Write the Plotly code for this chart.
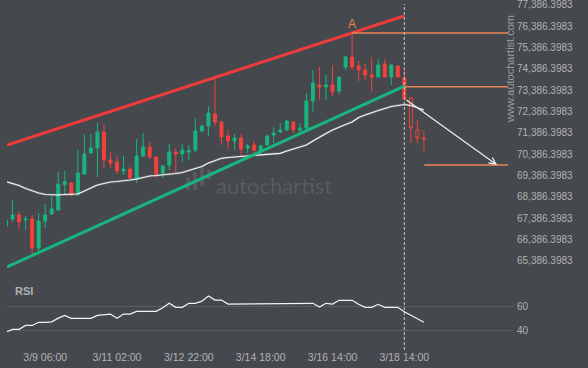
import plotly.graph_objects as go

# ---------------- data ----------------
tick_idx = [6, 17, 28, 39, 50, 61]
tick_labels = ["3/9 06:00", "3/11 02:00", "3/12 22:00", "3/14 18:00", "3/16 14:00", "3/18 14:00"]
price_ticks = [65386.3983 + 1000 * n for n in range(13)]
rsi_ticks = [40, 60]

opens = [67013, 67341, 67529, 67294, 67341, 65982, 67248, 67576, 67763, 68949,
         69029, 68513, 69451, 70435, 70669, 71419, 70107, 70013, 69591, 69685,
         69216, 70294, 70716, 70248, 69498, 69873, 70482, 70388, 70482, 70576,
         71466, 71701, 72263, 71888, 71232, 70998, 71138, 70669, 70810, 70529,
         70810, 71279, 71419, 71513, 71888, 71513, 71607, 72873, 73623, 73529,
         73623, 73341, 74466, 74935, 74513, 74326, 74091, 73998, 74607, 73998,
         74513, 73951]
highs = [67341, 68232, 67669, 67482, 67529, 67623, 68044, 68419, 69544, 69591,
         69076, 70576, 71326, 71326, 71841, 71794, 70482, 70294, 70294, 69779,
         71091, 71373, 70951, 70294, 69873, 70857, 70669, 70857, 70810, 72076,
         71748, 72638, 73904, 71935, 71513, 71326, 71326, 70857, 70998, 70810,
         71279, 71654, 71841, 71982, 71935, 71841, 73248, 74326, 74466, 74091,
         74560, 73998, 74982, 76060, 74748, 74607, 74935, 74841, 74841, 74607,
         74560, 74373]
lows = [66966, 67201, 66873, 66826, 65701, 65841, 66919, 67529, 67763, 68466,
        68419, 68419, 69427, 70435, 69310, 69732, 69732, 69451, 69404, 69216,
        69029, 70248, 70154, 69263, 69263, 69638, 69451, 70013, 70107, 70482,
        71419, 71232, 71701, 70810, 70623, 70576, 70294, 70435, 70388, 70388,
        70763, 70904, 71373, 71466, 71373, 71419, 71513, 72357, 72919, 72919,
        73107, 73201, 74326, 74326, 73810, 73857, 73294, 73998, 73951, 73623,
        73951, 72966]
closes = [67294, 67529, 67201, 67341, 65982, 67248, 67529, 67810, 68982, 69090,
          68466, 69498, 70388, 70669, 71419, 70107, 69966, 69591, 69685, 69263,
          70294, 70716, 70248, 69451, 69826, 70482, 70388, 70576, 70552, 71466,
          71701, 72310, 71888, 71185, 70998, 71138, 70623, 70763, 70576, 70763,
          71232, 71373, 71513, 71935, 71513, 71607, 72873, 73716, 73529, 73623,
          73294, 73998, 74935, 74466, 74326, 74091, 73998, 74560, 73998, 74560,
          73998, 72966]

fut_open = [73013, 71513, 71138]
fut_high = [73060, 71982, 71513]
fut_low = [70904, 70904, 70529]
fut_close = [71607, 71138, 71091]

ma = [69090, 69005, 68912, 68771, 68654, 68560, 68490, 68466, 68466, 68490,
      68490, 68513, 68654, 68794, 68935, 69005, 69076, 69099, 69123, 69169,
      69216, 69287, 69357, 69380, 69404, 69451, 69474, 69521, 69615, 69732,
      69802, 69966, 70084, 70187, 70224, 70248, 70271, 70294, 70318, 70341,
      70365, 70388, 70421, 70529, 70623, 70693, 70810, 70998, 71185, 71349,
      71513, 71654, 71771, 71888, 72099, 72216, 72334, 72427, 72521, 72615,
      72662, 72709, 72662, 72568, 72451]

rsi = [38.6, 40.8, 40.8, 44.0, 44.0, 46.6, 46.6, 47.0, 50.0, 52.3,
       49.9, 49.9, 49.9, 49.9, 52.3, 53.0, 53.4, 49.9, 53.4, 53.4,
       55.6, 55.6, 55.6, 55.6, 58.5, 62.2, 58.9, 58.9, 62.2, 62.2,
       64.0, 68.2, 64.9, 64.9, 61.6, 61.6, 61.6, 61.6, 61.6, 61.6,
       61.6, 62.2, 62.2, 62.2, 62.2, 62.2, 62.2, 62.2, 59.2, 62.2,
       61.6, 64.7, 64.7, 64.7, 61.4, 58.9, 58.9, 61.4, 58.9, 58.9,
       58.9, 55.3, 52.6, 49.6, 46.6]

res_x = [0.15, 60.95]
res_y = [70810, 76857]
sup_x = [0.15, 61.1]
sup_y = [65091, 73576]

level_y = [76060, 73543, 69873]
level_x0 = [53, 61.1, 64.06]
level_x1 = 76.9

arrow_x = [61.1, 75.2]
arrow_y = [72966, 69873]

now_idx = 61

# ---------------- style ----------------
BG = "#45484c"
GREEN = "#18b57e"
RED = "#f2403c"
ORANGE = "#ea8450"
TXT = "#b0b3b7"
FONT = "Liberation Sans, Arial, sans-serif"

W, H = 588, 368
ML, MR, MT, MB = 7, 75, 0, 22
PW, PH = W - ML - MR, H - MT - MB


def px(x):
    return (x - ML) / PW


def py(y):
    return (PH - (y - MT)) / PH


n = len(opens)
xs = list(range(n))
xs_f = list(range(n, n + len(fut_open)))
xs_all = list(range(len(ma)))

fig = go.Figure()

fig.add_trace(go.Scatter(x=xs_all, y=ma, mode="lines",
                         line=dict(color="rgba(255,255,255,0.18)", width=2.4), yaxis="y", hoverinfo="skip"))
fig.add_trace(go.Scatter(x=xs_all, y=ma, mode="lines",
                         line=dict(color="#f4f4f4", width=1.2), yaxis="y", hoverinfo="skip"))

fig.add_trace(go.Scatter(x=res_x, y=res_y, mode="lines", line=dict(color="#ee3b3b", width=3), yaxis="y"))
fig.add_trace(go.Scatter(x=sup_x, y=sup_y, mode="lines", line=dict(color="#19b57f", width=3), yaxis="y"))

fig.add_trace(go.Candlestick(
    x=xs, open=opens, high=highs, low=lows, close=closes, yaxis="y",
    increasing=dict(line=dict(color=GREEN, width=1), fillcolor=GREEN),
    decreasing=dict(line=dict(color=RED, width=1), fillcolor=RED),
    whiskerwidth=0, showlegend=False))
fig.add_trace(go.Candlestick(
    x=xs_f, open=fut_open, high=fut_high, low=fut_low, close=fut_close, yaxis="y",
    increasing=dict(line=dict(color=RED, width=1), fillcolor=BG),
    decreasing=dict(line=dict(color=RED, width=1), fillcolor=BG),
    whiskerwidth=0, showlegend=False))

for yv, x0 in zip(level_y, level_x0):
    fig.add_trace(go.Scatter(x=[x0, level_x1], y=[yv, yv], mode="lines",
                             line=dict(color=ORANGE, width=1.5), yaxis="y"))

fig.add_trace(go.Scatter(x=xs_all[:len(rsi)], y=rsi, mode="lines",
                         line=dict(color="#f4f4f4", width=1.2), yaxis="y2"))

annotations = [
    dict(x=arrow_x[1], y=arrow_y[1], ax=arrow_x[0], ay=arrow_y[0], xref="x", yref="y",
         axref="x", ayref="y", showarrow=True, arrowhead=5, arrowsize=1.1, arrowwidth=1.2,
         arrowcolor="#f0f0f0", text=""),
    dict(x=53, y=level_y[0], xref="x", yref="y", text="A", showarrow=False,
         yanchor="bottom", font=dict(color=ORANGE, size=12, family=FONT)),
    dict(x=px(13), y=py(291), xref="paper", yref="paper", text="<b>RSI</b>", showarrow=False,
         xanchor="left", yanchor="middle", font=dict(color=TXT, size=11, family=FONT)),
    dict(x=px(510), y=py(69), xref="paper", yref="paper", text="www.autochartist.com",
         showarrow=False, textangle=-90, xanchor="center", yanchor="middle",
         font=dict(color="#9a9da1", size=11, family=FONT)),
    dict(x=px(274), y=py(185), xref="paper", yref="paper", text="autochartist",
         showarrow=False, xanchor="center", yanchor="middle",
         font=dict(color="#585b5f", size=22, family="Lato, DejaVu Sans"),),
]

shapes = [
    dict(type="line", xref="x", yref="paper", x0=now_idx, x1=now_idx, y0=py(350), y1=py(4),
         line=dict(color="#c8c8c8", width=1, dash="3px,2px"), layer="above"),
]
for (bx0, by0, bx1, by1) in [(186, 178, 190, 190), (193, 172, 197, 190), (200, 167, 204, 186), (207, 170, 211, 180)]:
    shapes.append(dict(type="rect", xref="paper", yref="paper", x0=px(bx0), x1=px(bx1),
                       y0=py(by1), y1=py(by0), fillcolor="#56595d", line=dict(width=0), layer="below"))

fig.update_layout(
    width=W, height=H, margin=dict(l=ML, r=MR, t=MT, b=MB),
    paper_bgcolor=BG, plot_bgcolor=BG, showlegend=False, boxgap=0.35,
    font=dict(family=FONT, color=TXT),
    xaxis=dict(range=[0.153, 77.64], anchor="y2", tickvals=tick_idx, ticktext=tick_labels,
               showgrid=False, zeroline=False, showline=False, ticks="", ticklabelstandoff=3,
               tickfont=dict(size=10.5, color=TXT), rangeslider=dict(visible=False)),
    yaxis=dict(domain=[py(275), 1], range=[64716, 77607], side="right", anchor="x",
               tickvals=price_ticks, tickformat=",.4f", showgrid=False, zeroline=False,
               showline=False, ticks="", ticklabeloverflow="allow", ticklabelstandoff=3,
               tickfont=dict(size=10, color=TXT)),
    yaxis2=dict(domain=[0, py(282)], range=[27.1, 79.75], side="right", anchor="x",
                tickvals=rsi_ticks, showgrid=True, gridcolor="#5b5e61", gridwidth=1,
                zeroline=False, showline=False, ticks="", ticklabelstandoff=3,
                tickfont=dict(size=10, color=TXT)),
    annotations=annotations, shapes=shapes,
)

fig.write_html("out.html", config={"displayModeBar": False},
               post_script="document.body.style.margin='0';document.body.style.background='%s';" % BG)
